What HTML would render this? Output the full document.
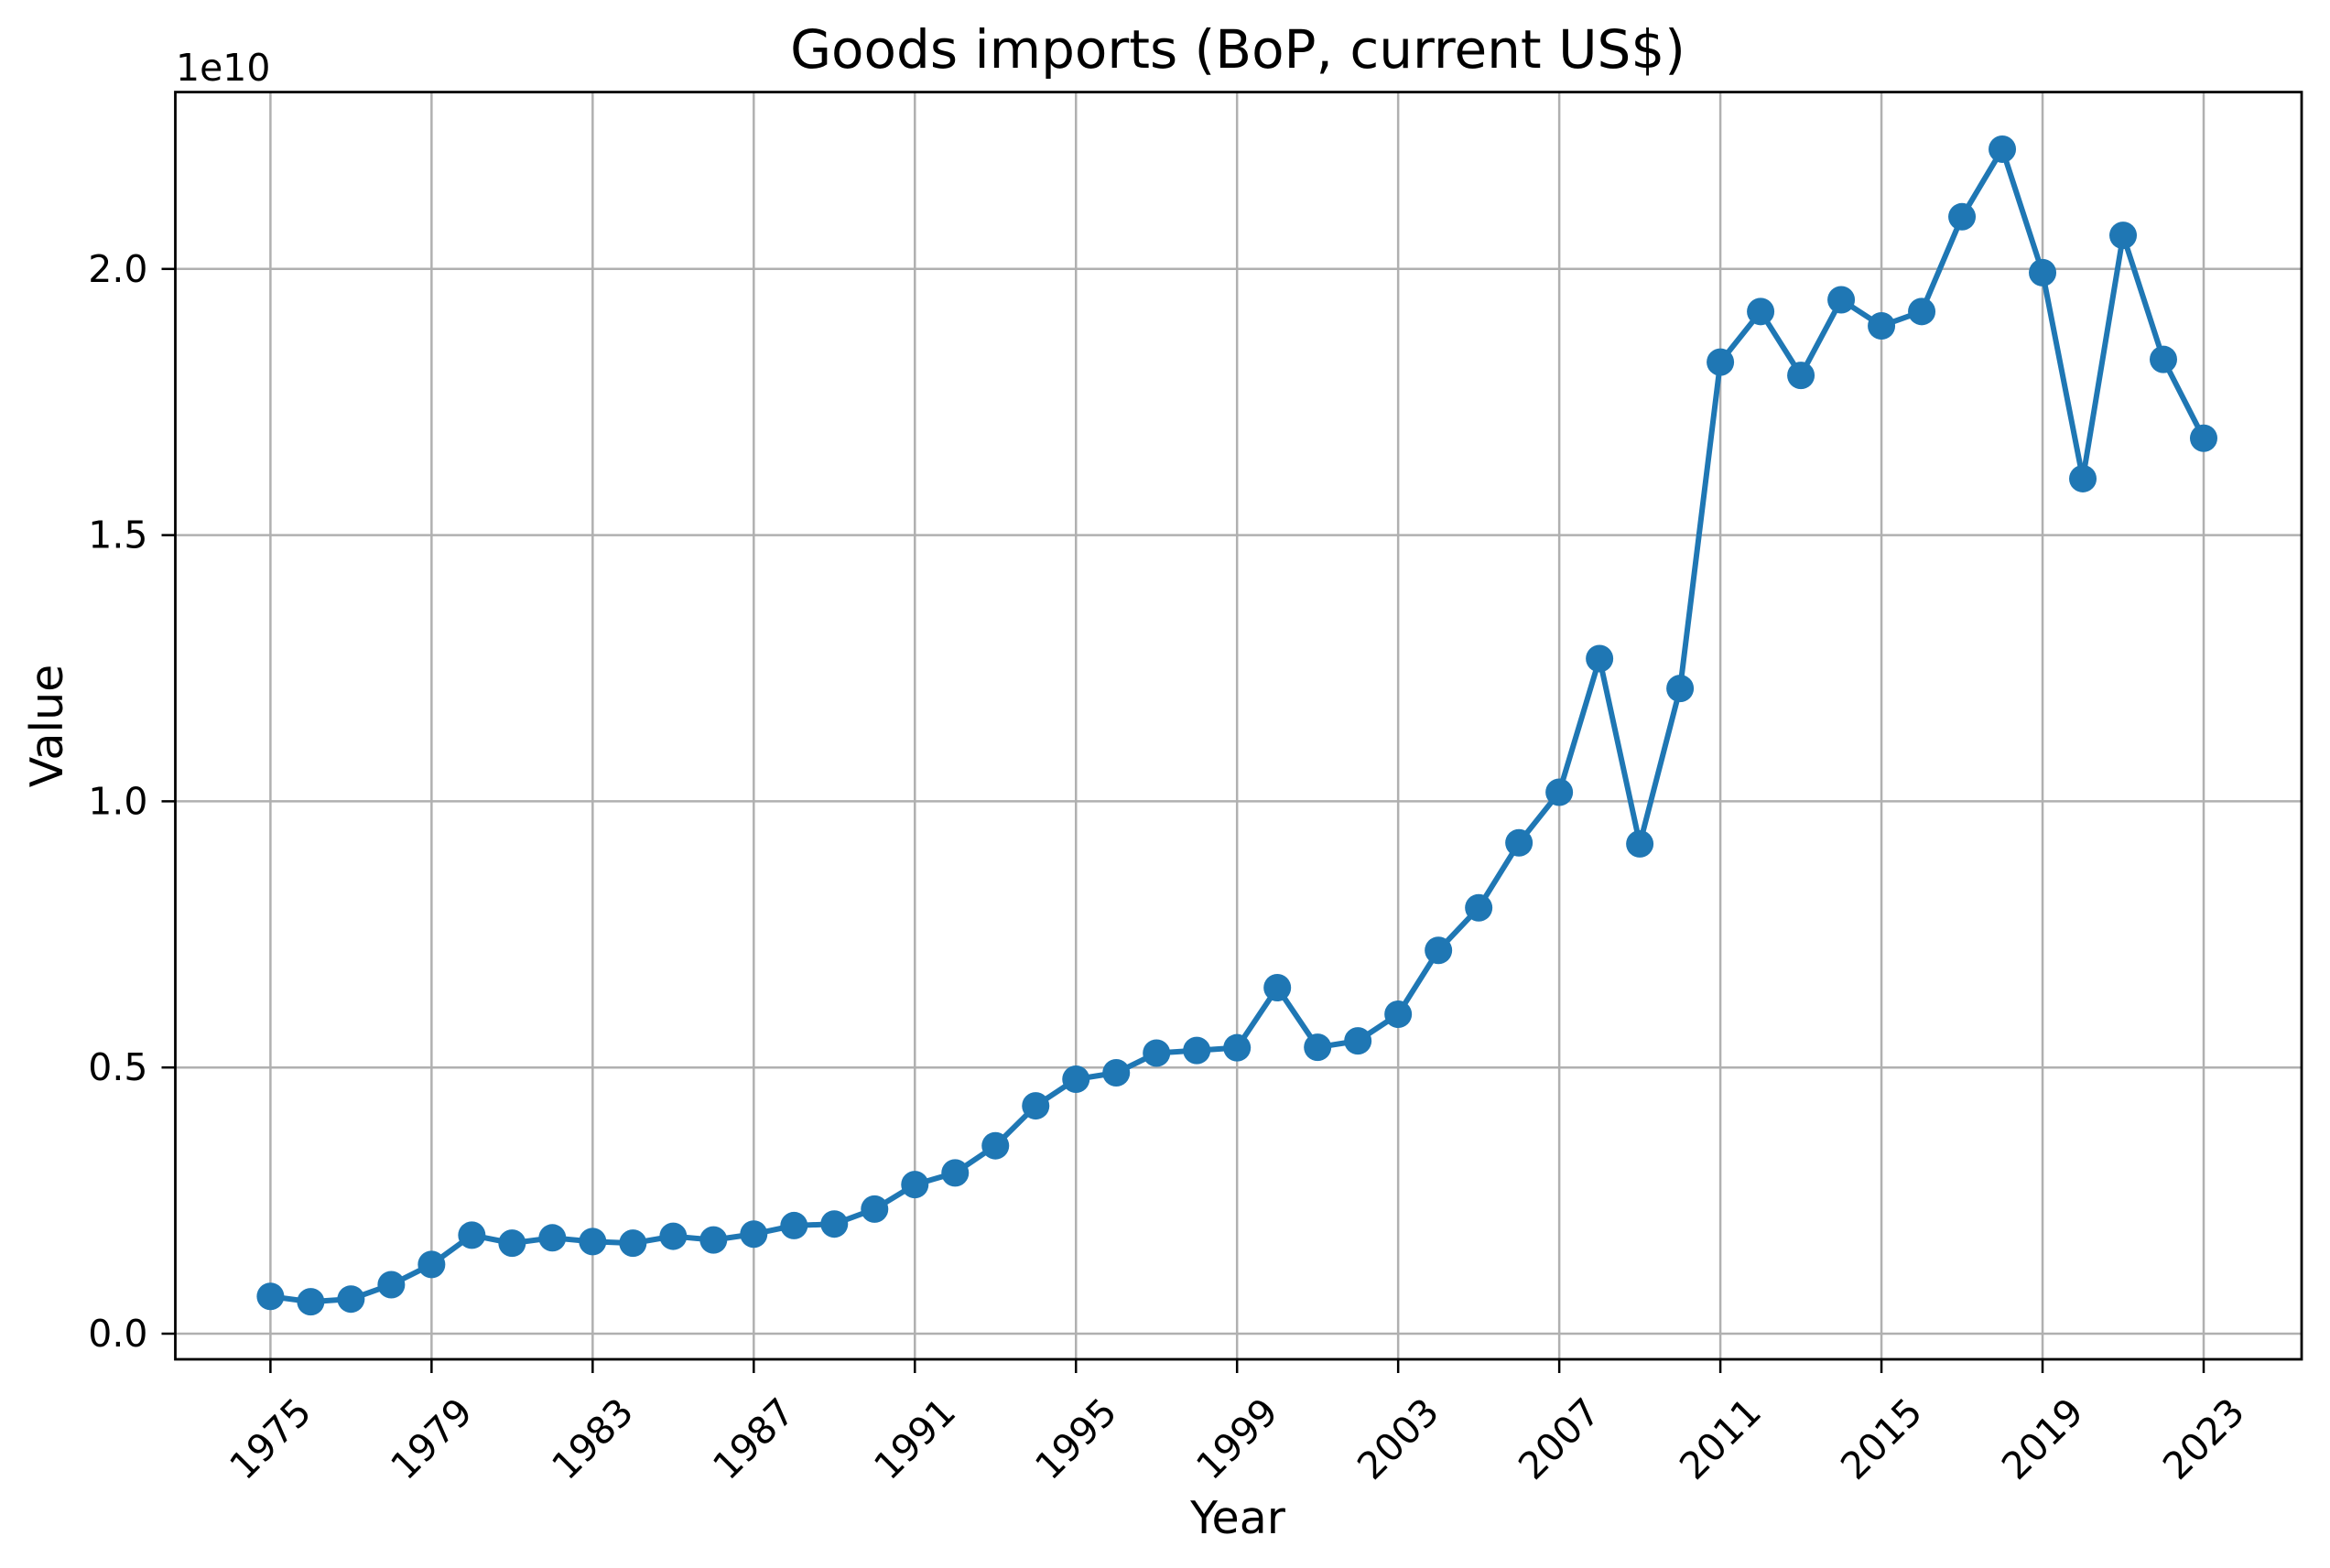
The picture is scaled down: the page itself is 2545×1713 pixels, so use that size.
<!DOCTYPE html>
<html><head><meta charset="utf-8"><style>body{margin:0;background:#fff}svg{display:block}text{font-family:"DejaVu Sans","Liberation Sans",sans-serif;fill:#000}</style></head>
<body>
<svg id="chart" width="2545" height="1713" viewBox="0 0 2545 1713" xmlns="http://www.w3.org/2000/svg">
<rect width="2545" height="1713" fill="#fff"/>
<g id="grid"></g>
<g id="series"></g>
<rect x="191.5" y="100.6" width="2322.5" height="1384.4" fill="none" stroke="#000" stroke-width="2.8"/>
<g id="axes"></g>
<text x="1352" y="74" font-size="58" text-anchor="middle">Goods imports (BoP, current US$)</text>
<text x="192" y="88" font-size="41">1e10</text>
<text x="1352" y="1675" font-size="49" text-anchor="middle">Year</text>
<text transform="translate(68,793) rotate(-90)" font-size="49" text-anchor="middle">Value</text>
</svg>
<script>
const years = [1975,1976,1977,1978,1979,1980,1981,1982,1983,1984,1985,1986,1987,1988,1989,1990,1991,1992,1993,1994,1995,1996,1997,1998,1999,2000,2001,2002,2003,2004,2005,2006,2007,2008,2009,2010,2011,2012,2013,2014,2015,2016,2017,2018,2019,2020,2021,2022,2023];
const values = [0.07,0.06,0.065,0.092,0.13,0.185,0.17,0.18,0.173,0.17,0.183,0.176,0.187,0.203,0.206,0.234,0.28,0.302,0.353,0.428,0.478,0.49,0.527,0.532,0.537,0.65,0.538,0.55,0.60,0.72,0.80,0.922,1.017,1.268,0.92,1.212,1.825,1.92,1.80,1.942,1.893,1.92,2.098,2.225,1.993,1.606,2.063,1.83,1.682];
const xTicks = [1975,1979,1983,1987,1991,1995,1999,2003,2007,2011,2015,2019,2023];
const yTicks = [0,0.5,1.0,1.5,2.0];
const yTickLabels = ["0.0","0.5","1.0","1.5","2.0"];

const NS="http://www.w3.org/2000/svg";
const X0=191.5,X1=2514,Y0=100.6,Y1=1485;
function xs(v){return 295.4+(v-1975)*(2407-295.4)/48;}
function ys(v){return 1457-v*(1457-293.8)/2;}
function mk(tag,attrs,parent){const e=document.createElementNS(NS,tag);for(const k in attrs)e.setAttribute(k,attrs[k]);parent.appendChild(e);return e;}
const grid=document.getElementById('grid'),axes=document.getElementById('axes'),series=document.getElementById('series');
xTicks.forEach(t=>{
  const x=xs(t);
  const g=mk('line',{x1:x,x2:x,y1:Y0,y2:Y1,stroke:'#b0b0b0','stroke-width':2.5},grid);
  
  
  const tk=mk('line',{x1:x,x2:x,y1:Y1,y2:Y1+15,stroke:'#000','stroke-width':2.5},axes);
  
  
  const tx=mk('text',{transform:`translate(${x},1572) rotate(-45)`,'font-size':41,'text-anchor':'middle','dominant-baseline':'central'},axes);
  tx.textContent=t;
  
  
});
yTicks.forEach((t,i)=>{
  const y=ys(t);
  const g=mk('line',{x1:X0,x2:X1,y1:y,y2:y,stroke:'#b0b0b0','stroke-width':2.5},grid);
  
  
  const tk=mk('line',{x1:X0-15,x2:X0,y1:y,y2:y,stroke:'#000','stroke-width':2.5},axes);
  
  
  const tx=mk('text',{x:X0-30,y:y,'font-size':41,'text-anchor':'end','dominant-baseline':'central'},axes);
  tx.textContent=yTickLabels[i];
  
  
});
const pts=years.map((y,i)=>xs(y)+','+ys(values[i])).join(' ');
const line=mk('polyline',{points:pts,fill:'none',stroke:'#1f77b4','stroke-width':6,'stroke-linejoin':'round'},series);


years.forEach((y,i)=>{
  const c=mk('circle',{cx:xs(y),cy:ys(values[i]),r:15,fill:'#1f77b4'},series);
  
  
});
</script>
</body></html>
